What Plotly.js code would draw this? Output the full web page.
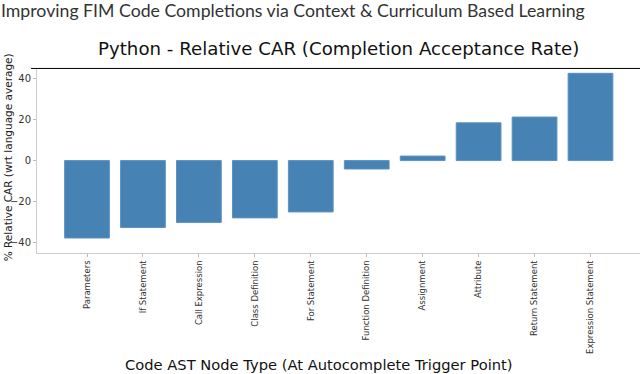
<!DOCTYPE html>
<html><head><meta charset="utf-8">
<script src="https://cdn.plot.ly/plotly-3.0.1.min.js"></script>
<style>html,body{margin:0;padding:0;background:#fff}</style>
</head><body>
<div id="chart" style="width:640px;height:374px"></div>
<script>
const categories = ["Parameters","If Statement","Call Expression","Class Definition","For Statement","Function Definition","Assignment","Attribute","Return Statement","Expression Statement"];
const relativeCAR = [-37.7, -32.6, -30.1, -27.9, -25.0, -4.1, 2.2, 18.4, 21.2, 42.5];
const yTickVals = [-40, -20, 0, 20, 40];
const yTickText = ["\u221240", "\u221220", "0", "20", "40"];

const trace = {
  type: "bar",
  x: categories.map((c, i) => i),
  y: relativeCAR,
  width: 0.8,
  marker: {color: "#4682b4", line: {color: "#5b93c2", width: 1}},
  hoverinfo: "skip"
};

const layout = {
  width: 640, height: 374,
  margin: {l: 37, r: 0, t: 69, b: 121, pad: 0},
  paper_bgcolor: "#fff", plot_bgcolor: "#fff",
  showlegend: false,
  font: {family: "DejaVu Sans", color: "#222"},
  xaxis: {
    range: [-0.894, 9.885],
    tickmode: "array",
    tickvals: categories.map((c, i) => i),
    ticktext: categories,
    tickangle: -90,
    tickfont: {size: 8.5, color: "#333"},
    ticks: "outside", ticklen: 3, tickcolor: "#bbb",
    showgrid: false, zeroline: false,
    showline: true, linecolor: "#ccc", linewidth: 1,
    fixedrange: true
  },
  yaxis: {
    range: [-45, 44.6],
    tickmode: "array",
    tickvals: yTickVals,
    ticktext: yTickText,
    tickfont: {size: 10, color: "#333"},
    ticks: "outside", ticklen: 3, tickcolor: "#bbb",
    showgrid: false, zeroline: false,
    showline: true, linecolor: "#ccc", linewidth: 1,
    fixedrange: true
  },
  shapes: [
    {type: "line", xref: "paper", yref: "paper", x0: -0.01, x1: 1, y0: 1.003, y1: 1.003,
     line: {color: "#000", width: 1}}
  ],
  annotations: [
    {text: "Improving FIM Code Completions via Context &amp; Curriculum Based Learning",
     xref: "paper", yref: "paper", x: -0.063, y: 1.0 + 58/184, xanchor: "left", yanchor: "middle",
     showarrow: false, font: {family: "Lato", size: 17.7, color: "#333"}},
    {text: "Python - Relative CAR (Completion Acceptance Rate)",
     xref: "paper", yref: "paper", x: (338 - 37) / 603, y: 1.0 + 21/184, xanchor: "center", yanchor: "middle",
     showarrow: false, font: {family: "DejaVu Sans", size: 18.2, color: "#111"}},
    {text: "Code AST Node Type (At Autocomplete Trigger Point)",
     xref: "paper", yref: "paper", x: (318.5 - 37) / 603, y: -(364 - 252.7) / 184, xanchor: "center", yanchor: "middle",
     showarrow: false, font: {family: "DejaVu Sans", size: 14.7, color: "#111"}},
    {text: "% Relative CAR (wrt language average)",
     xref: "paper", yref: "paper", x: -(37 - 8) / 603, y: (252.7 - 157) / 184, xanchor: "center", yanchor: "middle",
     textangle: -90, showarrow: false, font: {family: "DejaVu Sans", size: 10.5, color: "#222"}}
  ]
};

Plotly.newPlot("chart", [trace], layout, {staticPlot: true, displayModeBar: false});
</script>
</body></html>
